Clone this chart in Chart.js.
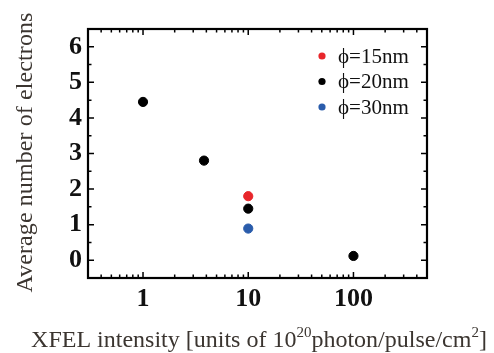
<!DOCTYPE html>
<html>
<head>
<meta charset="utf-8">
<script src="https://cdn.jsdelivr.net/npm/chart.js@4/dist/chart.umd.min.js"></script>
<style>
  html,body{margin:0;padding:0;background:#fff;}
  #wrap{width:494px;height:353px;}
</style>
</head>
<body>
<div id="wrap"><canvas id="c" width="494" height="353"></canvas></div>
<script>
// series
const labels = ['\u03d5=15nm', '\u03d5=20nm', '\u03d5=30nm'];
const colors = ['#e8262b', '#000000', '#2a5cab'];
const d15 = [{x:10, y:1.80}];
const d20 = [{x:1, y:4.45}, {x:3.8, y:2.80}, {x:10, y:1.45}, {x:100, y:0.12}];
const d30 = [{x:10, y:0.89}];
const xTicks = [1, 10, 100];
const yTicks = [0, 1, 2, 3, 4, 5, 6];
const yTitle = 'Average number of electrons';
// x title pieces: [text, superscript?]
const xTitle = [['XFEL intensity [units of 10', false], ['20', true], ['photon/pulse/cm', false], ['2', true], [']', false]];

const serif = '"Liberation Serif", "Times New Roman", serif';
const titleCol = '#3b3530';

// frame + inward ticks on all four sides
const framePlugin = {
  id:'frame',
  afterDatasetsDraw(chart){
    const {ctx, chartArea:a, scales:{x, y}} = chart;
    ctx.save();
    ctx.strokeStyle = '#000';
    ctx.lineWidth = 1.5;
    ctx.beginPath();
    for(let dec = -1; dec <= 2; dec++){
      for(let m = 1; m <= 9; m++){
        const v = m * Math.pow(10, dec);
        if(v < x.min || v > x.max) continue;
        const px = x.getPixelForValue(v);
        const len = m === 1 ? 6 : 3.5;
        ctx.moveTo(px, a.bottom); ctx.lineTo(px, a.bottom - len);
        ctx.moveTo(px, a.top); ctx.lineTo(px, a.top + len);
      }
    }
    for(let v = -0.5; v <= 6.5; v += 0.5){
      const py = y.getPixelForValue(v);
      const len = Number.isInteger(v) ? 6 : 3.5;
      ctx.moveTo(a.left, py); ctx.lineTo(a.left + len, py);
      ctx.moveTo(a.right, py); ctx.lineTo(a.right - len, py);
    }
    ctx.stroke();
    ctx.lineWidth = 2.2;
    ctx.strokeRect(a.left, a.top, a.right - a.left, a.bottom - a.top);
    ctx.restore();
  }
};

// legend inside the plot, top right
const legendPlugin = {
  id:'inLegend',
  afterDraw(chart){
    const {ctx, chartArea:a} = chart;
    ctx.save();
    ctx.font = '21px ' + serif;
    ctx.textBaseline = 'middle';
    chart.data.datasets.forEach((ds, i) => {
      const cy = a.top + 27 + i * 25.5;
      const cx = a.right - 105;
      ctx.fillStyle = ds.backgroundColor;
      ctx.beginPath(); ctx.arc(cx, cy, 3.6, 0, Math.PI * 2); ctx.fill();
      ctx.fillStyle = '#111';
      ctx.fillText(ds.label, cx + 16, cy + 1);
    });
    ctx.restore();
  }
};

// axis titles (drawn by hand for the superscripts and the full width)
const titlePlugin = {
  id:'titles',
  afterDraw(chart){
    const {ctx, chartArea:a} = chart;
    ctx.save();
    ctx.fillStyle = titleCol;
    ctx.textBaseline = 'alphabetic';
    // x title
    const fs = 24, ss = 15;
    let w = 0;
    xTitle.forEach(([t, sup]) => { ctx.font = (sup ? ss : fs) + 'px ' + serif; w += ctx.measureText(t).width; });
    let px = 259 - w / 2;
    xTitle.forEach(([t, sup]) => {
      ctx.font = (sup ? ss : fs) + 'px ' + serif;
      ctx.fillText(t, px, sup ? 337 : 347);
      px += ctx.measureText(t).width;
    });
    // y title
    ctx.font = fs + 'px ' + serif;
    const target = 280;
    const nat = ctx.measureText(yTitle).width;
    ctx.letterSpacing = Math.max(0, (target - nat) / (yTitle.length - 1)).toFixed(2) + 'px';
    ctx.translate(32, (a.top + a.bottom) / 2 - 1);
    ctx.rotate(-Math.PI / 2);
    ctx.textAlign = 'center';
    ctx.fillText(yTitle, 0, 0);
    ctx.restore();
  }
};

function ds(label, data, col){
  return {label, data, backgroundColor:col, borderColor:col, pointRadius:4.6, pointHoverRadius:4.6, showLine:false};
}

new Chart(document.getElementById('c'), {
  type:'scatter',
  data:{ datasets:[ ds(labels[0], d15, colors[0]), ds(labels[1], d20, colors[1]), ds(labels[2], d30, colors[2]) ] },
  options:{
    responsive:false, animation:false, events:[],
    layout:{ padding:{ top:29, right:67, left:0, bottom:0 } },
    plugins:{ legend:{display:false}, tooltip:{enabled:false} },
    scales:{
      x:{
        type:'logarithmic', min:0.3, max:500,
        grid:{display:false, drawTicks:false}, border:{display:false},
        afterBuildTicks(s){ s.ticks = xTicks.map(v => ({value:v, major:true})); },
        afterFit(s){ s.height = 75; },
        ticks:{ autoSkip:false, maxRotation:0, padding:6, color:'#111',
          font:{family:serif, size:26, weight:'bold'}, callback:v => String(v) }
      },
      y:{
        min:-0.5, max:6.5,
        grid:{display:false, drawTicks:false}, border:{display:false},
        afterBuildTicks(s){ s.ticks = yTicks.map(v => ({value:v})); },
        afterFit(s){ s.width = 88; },
        ticks:{ padding:6, color:'#111', font:{family:serif, size:26, weight:'bold'} }
      }
    }
  },
  plugins:[framePlugin, legendPlugin, titlePlugin]
});
</script>
</body>
</html>
